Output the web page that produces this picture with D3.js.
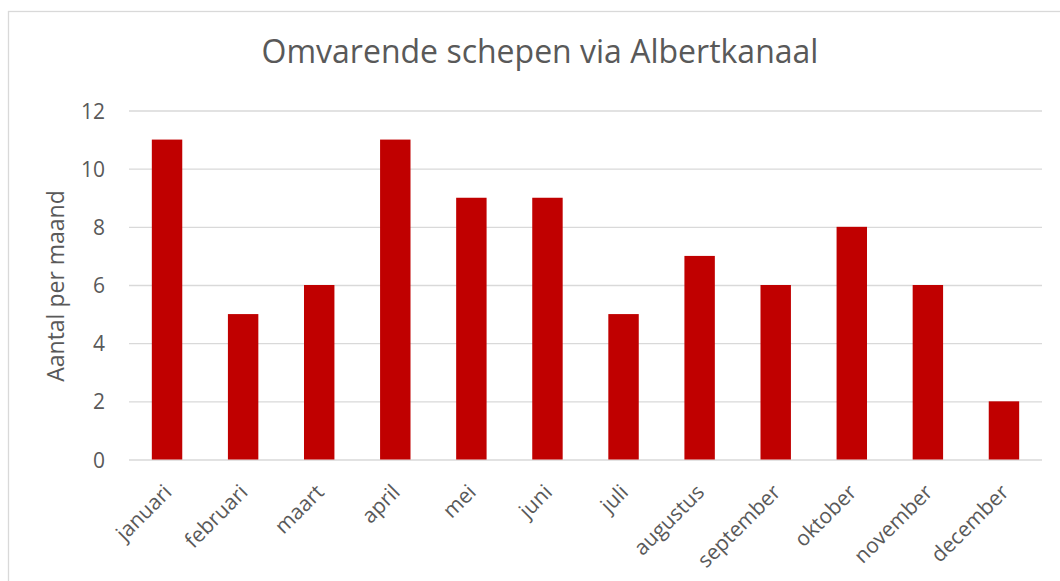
<!DOCTYPE html>
<html><head><meta charset="utf-8">
<script src="https://cdn.jsdelivr.net/npm/d3@7"></script>
<style>body{margin:0;background:#fff}svg{display:block}</style>
</head><body>
<svg id="c" width="1060" height="581"></svg>
<script>
const months = ["januari","februari","maart","april","mei","juni","juli","augustus","september","oktober","november","december"];
const counts = [11,5,6,11,9,9,5,7,6,8,6,2];
const yTicks = [0,2,4,6,8,10,12];
const title = "Omvarende schepen via Albertkanaal";
const yLabel = "Aantal per maand";

const svg = d3.select("#c");
const font = "'Open Sans', sans-serif";
const grey = "#595959";

svg.append("rect").attr("x",8.5).attr("y",11.5).attr("width",1100).attr("height",700)
  .attr("fill","#fff").attr("stroke","#d9d9d9").attr("stroke-width",1.3);

const x = d3.scaleBand().domain(months).range([129,1042]).paddingInner(0.6).paddingOuter(0.3);
const y = d3.scaleLinear().domain([0,12]).range([459.5,110.5]);

const ga = svg.append("g").attr("transform","translate(129,0)");
const yAxis = d3.axisLeft(y).tickValues(yTicks).tickSize(-(1042-129)).tickPadding(24);
ga.call(yAxis);
ga.select(".domain").remove();
ga.selectAll(".tick line").attr("stroke","#d9d9d9").attr("stroke-width",1.3);
ga.selectAll(".tick text").attr("fill",grey).style("font-family",font).style("font-size","21px").attr("dy","0.36em");

svg.append("g").selectAll("rect").data(counts).join("rect")
  .attr("x",(d,i)=>x(months[i])).attr("width",x.bandwidth())
  .attr("y",d=>y(d)).attr("height",d=>y(0)-y(d)).attr("fill","#c00000");

const gx = svg.append("g").attr("transform","translate(0,459.5)");
gx.call(d3.axisBottom(x).tickSize(0).tickPadding(0));
gx.select(".domain").remove();
gx.selectAll(".tick text").attr("fill",grey).style("font-family",font).style("font-size","21px")
  .attr("text-anchor","end").attr("dy",null)
  .attr("transform","translate(6,34) rotate(-45)");

svg.append("text").attr("x",540).attr("y",63).attr("text-anchor","middle")
  .attr("fill",grey).style("font-family",font).style("font-size","32px").text(title);

svg.append("text").attr("transform","translate(64,286) rotate(-90)").attr("text-anchor","middle")
  .attr("fill",grey).style("font-family",font).style("font-size","23px").text(yLabel);
</script>
</body></html>
